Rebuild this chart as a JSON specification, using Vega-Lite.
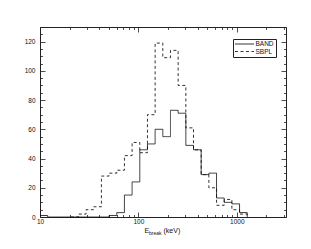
{
  "$schema": "https://vega.github.io/schema/vega-lite/v6.json",
  "width": 246,
  "height": 190,
  "autosize": "none",
  "padding": {"left": 40, "top": 27, "right": 25, "bottom": 32},
  "background": "white",
  "config": {
    "view": {"stroke": "#222222", "strokeWidth": 1},
    "font": "Liberation Sans",
    "axis": {"grid": false, "domain": false, "tickColor": "#222222", "tickWidth": 0.8, "labelColor": "#111111", "titleColor": "#111111", "labelFont": "Liberation Sans", "titleFont": "Liberation Sans", "labelFontSize": 6.5, "titleFontWeight": "normal"}
  },
  "data": {"values": [
    {"model": "BAND", "E": 10.0, "count": 1},
    {"model": "BAND", "E": 11.97, "count": 0},
    {"model": "BAND", "E": 14.32, "count": 0},
    {"model": "BAND", "E": 17.14, "count": 0},
    {"model": "BAND", "E": 20.51, "count": 0},
    {"model": "BAND", "E": 24.55, "count": 0},
    {"model": "BAND", "E": 29.38, "count": 0},
    {"model": "BAND", "E": 35.16, "count": 0},
    {"model": "BAND", "E": 42.07, "count": 0},
    {"model": "BAND", "E": 50.35, "count": 1},
    {"model": "BAND", "E": 60.26, "count": 3},
    {"model": "BAND", "E": 72.11, "count": 15},
    {"model": "BAND", "E": 86.30, "count": 24},
    {"model": "BAND", "E": 103.3, "count": 46},
    {"model": "BAND", "E": 123.6, "count": 50},
    {"model": "BAND", "E": 147.9, "count": 60},
    {"model": "BAND", "E": 177.0, "count": 55},
    {"model": "BAND", "E": 211.8, "count": 73},
    {"model": "BAND", "E": 253.5, "count": 71},
    {"model": "BAND", "E": 303.4, "count": 49},
    {"model": "BAND", "E": 363.1, "count": 46},
    {"model": "BAND", "E": 434.5, "count": 29},
    {"model": "BAND", "E": 520.0, "count": 30},
    {"model": "BAND", "E": 622.3, "count": 13},
    {"model": "BAND", "E": 744.7, "count": 10},
    {"model": "BAND", "E": 891.3, "count": 9},
    {"model": "BAND", "E": 1066.6, "count": 3},
    {"model": "BAND", "E": 1276.4, "count": 0},
    {"model": "SBPL", "E": 20.51, "count": 0},
    {"model": "SBPL", "E": 24.55, "count": 2},
    {"model": "SBPL", "E": 29.38, "count": 5},
    {"model": "SBPL", "E": 35.16, "count": 7},
    {"model": "SBPL", "E": 42.07, "count": 28},
    {"model": "SBPL", "E": 50.35, "count": 30},
    {"model": "SBPL", "E": 60.26, "count": 32},
    {"model": "SBPL", "E": 72.11, "count": 42},
    {"model": "SBPL", "E": 86.30, "count": 51},
    {"model": "SBPL", "E": 103.3, "count": 44},
    {"model": "SBPL", "E": 123.6, "count": 70},
    {"model": "SBPL", "E": 147.9, "count": 119},
    {"model": "SBPL", "E": 177.0, "count": 109},
    {"model": "SBPL", "E": 211.8, "count": 114},
    {"model": "SBPL", "E": 253.5, "count": 90},
    {"model": "SBPL", "E": 303.4, "count": 61},
    {"model": "SBPL", "E": 363.1, "count": 46},
    {"model": "SBPL", "E": 434.5, "count": 29},
    {"model": "SBPL", "E": 520.0, "count": 20},
    {"model": "SBPL", "E": 622.3, "count": 8},
    {"model": "SBPL", "E": 744.7, "count": 12},
    {"model": "SBPL", "E": 891.3, "count": 5},
    {"model": "SBPL", "E": 1066.6, "count": 2},
    {"model": "SBPL", "E": 1276.4, "count": 0}
  ]},
  "layer": [
    {
      "mark": {"type": "line", "interpolate": "step-after", "color": "#111111", "strokeWidth": 0.85},
      "encoding": {
        "x": {
          "field": "E", "type": "quantitative",
          "scale": {"type": "log", "domain": [10, 3162], "nice": false},
          "axis": {
            "orient": "bottom",
            "values": [10, 20, 30, 40, 50, 60, 70, 80, 90, 100, 200, 300, 400, 500, 600, 700, 800, 900, 1000, 2000, 3000],
            "tickSize": {"condition": {"test": "datum.value == 10 || datum.value == 100 || datum.value == 1000", "value": -5}, "value": -2.5},
            "labelExpr": "datum.value == 10 || datum.value == 100 || datum.value == 1000 ? '' + datum.value : ''",
            "labelPadding": 6,
            "labelFlush": false,
            "labelColor": "#111111",
            "title": "E",
            "titleFontSize": 7,
            "titleX": 104,
            "titleY": 15.7,
            "titleAlign": "left",
            "titleBaseline": "alphabetic"
          }
        },
        "y": {
          "field": "count", "type": "quantitative",
          "scale": {"domain": [0, 130], "nice": false},
          "axis": {
            "orient": "left",
            "values": [0, 5, 10, 15, 20, 25, 30, 35, 40, 45, 50, 55, 60, 65, 70, 75, 80, 85, 90, 95, 100, 105, 110, 115, 120, 125, 130],
            "tickSize": {"condition": {"test": "datum.value % 20 == 0", "value": -5}, "value": -2.5},
            "labelExpr": "datum.value % 20 == 0 ? '' + datum.value : ''",
            "labelPadding": 10,
            "labelFlush": false,
            "labelColor": "#111111",
            "title": null
          }
        },
        "strokeDash": {
          "field": "model", "type": "nominal",
          "scale": {"domain": ["BAND", "SBPL"], "range": [[1, 0], [3, 2.5]]},
          "legend": {
            "orient": "none", "legendX": 193, "legendY": 12,
            "title": null,
            "strokeColor": "#222222", "fillColor": "white",
            "padding": 1.5, "rowPadding": 0.5,
            "symbolType": "M-1,0H5.33", "symbolSize": 36,
            "symbolStrokeWidth": 0.85, "symbolStrokeColor": "#111111",
            "labelFontSize": 6.5, "labelOffset": 14, "labelFont": "Liberation Sans", "labelColor": "#111111"
          }
        }
      }
    },
    {
      "mark": {"type": "line", "interpolate": "step-after", "opacity": 0},
      "encoding": {
        "x": {
          "field": "E", "type": "quantitative",
          "axis": {
            "orient": "top",
            "values": [10, 20, 30, 40, 50, 60, 70, 80, 90, 100, 200, 300, 400, 500, 600, 700, 800, 900, 1000, 2000, 3000],
            "tickSize": {"condition": {"test": "datum.value == 10 || datum.value == 100 || datum.value == 1000", "value": -5}, "value": -2.5},
            "labels": false,
            "title": null
          }
        },
        "y": {
          "field": "count", "type": "quantitative",
          "axis": {
            "orient": "right",
            "values": [0, 5, 10, 15, 20, 25, 30, 35, 40, 45, 50, 55, 60, 65, 70, 75, 80, 85, 90, 95, 100, 105, 110, 115, 120, 125, 130],
            "tickSize": {"condition": {"test": "datum.value % 20 == 0", "value": -5}, "value": -2.5},
            "labels": false,
            "title": null
          }
        },
        "detail": {"field": "model"}
      }
    },
    {
      "mark": {"type": "line", "opacity": 0},
      "encoding": {
        "x": {
          "field": "E", "type": "quantitative",
          "axis": {
            "orient": "bottom", "ticks": false, "labels": false,
            "title": "break", "titleFontSize": 5,
            "titleX": 108.5, "titleY": 17.5,
            "titleAlign": "left", "titleBaseline": "alphabetic"
          }
        },
        "y": {"field": "count", "type": "quantitative", "axis": null},
        "detail": {"field": "model"}
      }
    },
    {
      "mark": {"type": "line", "opacity": 0},
      "encoding": {
        "x": {
          "field": "E", "type": "quantitative",
          "axis": {
            "orient": "bottom", "ticks": false, "labels": false,
            "title": "(keV)", "titleFontSize": 7,
            "titleX": 123, "titleY": 15.7,
            "titleAlign": "left", "titleBaseline": "alphabetic"
          }
        },
        "y": {"field": "count", "type": "quantitative", "axis": null},
        "detail": {"field": "model"}
      }
    }
  ],
  "resolve": {"axis": {"x": "independent", "y": "independent"}}
}
